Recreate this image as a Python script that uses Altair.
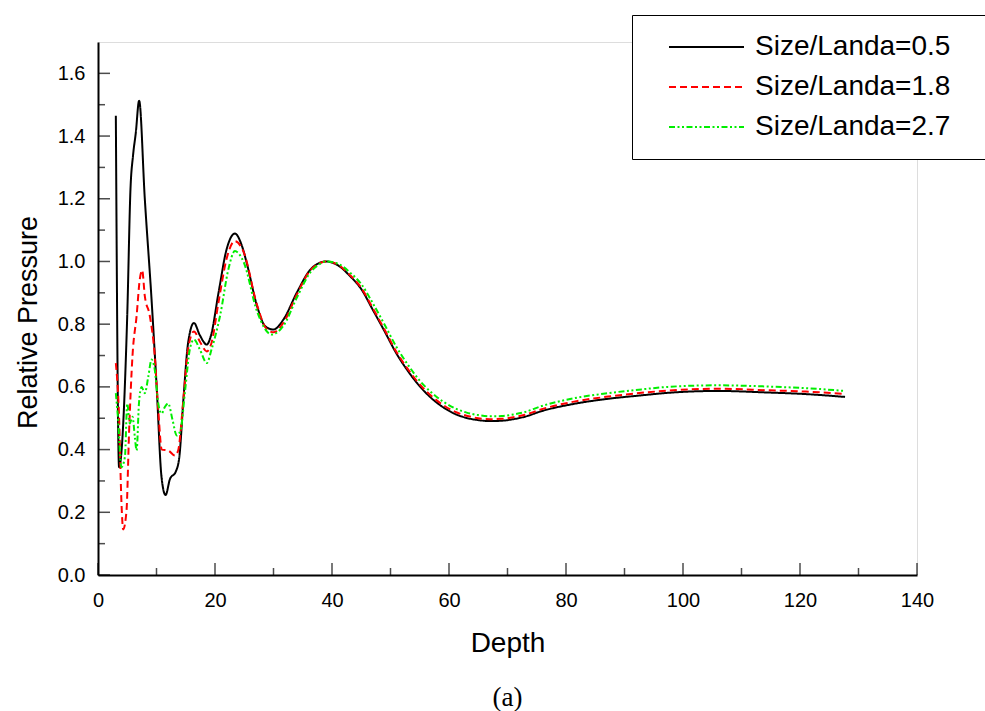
import altair as alt
import pandas as pd

names = ["Size/Landa=0.5", "Size/Landa=1.8", "Size/Landa=2.7"]
colors = ["#000000", "#ff0000", "#00ee00"]
dashes = [[1, 0], [7, 4], [6, 2.5, 2, 2.5, 2, 2.5]]

x_a = [3.05, 3.6, 5.0, 5.55, 6.0, 6.46, 7.03, 8.0, 9.15, 10.0, 10.87, 11.55, 12.3, 13.3, 13.9,
       14.6, 15.4, 16.4, 17.4, 18.6, 19.3, 20.6, 22.0, 23.4, 24.6, 25.4, 27.2, 28.6, 30.0, 31.7,
       34.0, 36.3, 37.5, 39.0, 41.0, 43.0, 45.0, 47.0, 49.0, 51.0, 53.0, 55.0, 57.0, 59.0, 61.0,
       63.0, 65.0, 67.0, 69.0, 71.0, 73.0, 75.7, 81.4, 87.2, 92.9, 97.4, 106.0, 114.6, 121.0, 127.7]
y_a = [1.465, 0.344, 0.83, 1.23, 1.34, 1.41, 1.513, 1.20, 0.88, 0.61, 0.31, 0.255, 0.306, 0.33, 0.376,
       0.56, 0.74, 0.804, 0.765, 0.735, 0.763, 0.90, 1.04, 1.089, 1.05, 0.997, 0.857, 0.793, 0.783, 0.815,
       0.901, 0.974, 0.992, 1.0, 0.988, 0.955, 0.912, 0.845, 0.777, 0.707, 0.650, 0.602, 0.564, 0.535,
       0.514, 0.501, 0.494, 0.491, 0.492, 0.497, 0.505, 0.522, 0.546, 0.562, 0.573, 0.581, 0.587, 0.582,
       0.577, 0.568]

x_b = [3.05, 3.6, 4.0, 4.3, 4.87, 5.3, 5.9, 6.6, 7.15, 7.55, 8.0, 8.86, 9.7, 10.3, 10.9, 12.0, 13.15,
       13.7, 14.6, 15.4, 16.4, 17.4, 18.6, 19.4, 20.6, 22.0, 23.4, 24.9, 27.2, 28.8, 30.0, 31.7, 34.0,
       36.3, 37.5, 39.0, 41.0, 43.0, 45.0, 47.0, 49.0, 51.0, 53.0, 55.0, 57.0, 59.0, 61.0, 63.0, 65.0,
       67.0, 69.0, 71.0, 73.0, 75.7, 81.4, 87.2, 92.9, 97.4, 106.0, 114.6, 121.0, 127.7]
y_b = [0.676, 0.505, 0.236, 0.145, 0.204, 0.45, 0.70, 0.827, 0.944, 0.972, 0.89, 0.826, 0.70, 0.526, 0.40,
       0.397, 0.381, 0.397, 0.56, 0.72, 0.777, 0.745, 0.713, 0.74, 0.87, 1.01, 1.065, 1.03, 0.86, 0.785,
       0.774, 0.805, 0.895, 0.972, 0.991, 1.0, 0.99, 0.958, 0.916, 0.850, 0.782, 0.712, 0.656, 0.608,
       0.571, 0.542, 0.521, 0.508, 0.500, 0.497, 0.498, 0.503, 0.511, 0.528, 0.553, 0.569, 0.581, 0.588,
       0.594, 0.589, 0.585, 0.577]

x_c = [3.05, 3.4, 4.0, 4.6, 5.0, 5.43, 5.9, 6.3, 6.6, 7.0, 7.45, 8.0, 8.6, 9.15, 9.7, 10.3, 10.87,
       11.4, 12.0, 12.75, 13.45, 14.1, 14.9, 15.7, 16.4, 17.4, 18.6, 19.4, 20.9, 22.3, 23.4, 24.9,
       27.2, 29.7, 31.7, 34.0, 36.3, 37.6, 39.0, 41.0, 43.0, 45.0, 47.0, 49.0, 51.0, 53.0, 55.0, 57.0,
       59.0, 61.0, 63.0, 65.0, 67.0, 69.0, 71.0, 73.0, 75.7, 81.4, 87.2, 92.9, 97.4, 106.0, 114.6,
       121.0, 127.7]
y_c = [0.58, 0.505, 0.344, 0.376, 0.547, 0.483, 0.505, 0.44, 0.397, 0.547, 0.60, 0.58, 0.633, 0.687,
       0.655, 0.547, 0.515, 0.535, 0.547, 0.494, 0.445, 0.461, 0.59, 0.72, 0.751, 0.72, 0.676, 0.719,
       0.83, 0.976, 1.033, 0.998, 0.84, 0.767, 0.795, 0.885, 0.965, 0.988, 1.0, 0.993, 0.966, 0.928,
       0.866, 0.798, 0.728, 0.670, 0.620, 0.582, 0.553, 0.532, 0.518, 0.510, 0.506, 0.507, 0.512, 0.520,
       0.538, 0.564, 0.580, 0.592, 0.600, 0.605, 0.601, 0.596, 0.587]

x_major = [0, 20, 40, 60, 80, 100, 120, 140]
x_minor = [10, 30, 50, 70, 90, 110, 130]
y_major = [0.0, 0.2, 0.4, 0.6, 0.8, 1.0, 1.2, 1.4, 1.6]
y_minor = [0.1, 0.3, 0.5, 0.7, 0.9, 1.1, 1.3, 1.5]

rows = []
for name, xs_, ys_ in zip(names, [x_a, x_b, x_c], [y_a, y_b, y_c]):
    for i, (xv, yv) in enumerate(zip(xs_, ys_)):
        rows.append({"series": name, "depth": xv, "p": yv, "i": i})
df = pd.DataFrame(rows)

W, H = 819, 533
FONT = "Liberation Sans"

xscale = alt.Scale(domain=[0, 140], nice=False, zero=False)
yscale = alt.Scale(domain=[0, 1.7], nice=False)

xaxis = alt.Axis(values=x_major, ticks=False, grid=False, labelFontSize=20, labelFont=FONT,
                 labelColor="black", labelPadding=15, title="Depth", titleFont=FONT,
                 titleFontSize=28, titleFontWeight="normal", titleColor="black",
                 titleBaseline="alphabetic", titleY=76, domainColor="black", domainWidth=2,
                 labelFlush=False)
yaxis = alt.Axis(values=y_major, format=".1f", ticks=False, grid=False, labelFontSize=20,
                 labelFont=FONT, labelColor="black", labelPadding=13, title="Relative Pressure",
                 titleFont=FONT, titleFontSize=27, titleFontWeight="normal", titleColor="black",
                 titleBaseline="alphabetic", titleAngle=-90, titleX=-62, titleY=280,
                 domainColor="black", domainWidth=2, labelFlush=False)

legend = alt.Legend(title=None, orient="none", legendX=534, legendY=-27, symbolType="stroke",
                    symbolSize=5625, symbolStrokeWidth=2, labelFontSize=28, labelFont=FONT,
                    labelColor="black", labelOffset=10, labelLimit=0, rowPadding=12, padding=18,
                    clipHeight=28, strokeColor="black", fillColor="white", symbolOffset=18,
                    labelExpr="datum.label + '\u2800'")

lines = alt.Chart(df).mark_line(interpolate="monotone", strokeWidth=2, clip=True).encode(
    x=alt.X("depth:Q", scale=xscale, axis=xaxis),
    y=alt.Y("p:Q", scale=yscale, axis=yaxis),
    color=alt.Color("series:N", scale=alt.Scale(domain=names, range=colors), legend=legend),
    strokeDash=alt.StrokeDash("series:N", scale=alt.Scale(domain=names, range=dashes), legend=legend),
    order="i:Q",
)

def xticks(vals, length):
    return alt.Chart(pd.DataFrame({"depth": vals})).mark_tick(
        orient="vertical", size=length, thickness=1.5, color="black").encode(
        x=alt.X("depth:Q", scale=xscale, axis=xaxis), y=alt.value(H - length / 2))

def yticks(vals, length):
    return alt.Chart(pd.DataFrame({"p": vals})).mark_tick(
        orient="horizontal", size=length, thickness=1.5, color="black").encode(
        y=alt.Y("p:Q", scale=yscale, axis=yaxis), x=alt.value(length / 2))

chart = alt.layer(
    lines, xticks(x_major, 12), xticks(x_minor, 7), yticks(y_major, 12), yticks(y_minor, 7)
).properties(
    width=W, height=H,
    autosize=alt.AutoSizeParams(type="none"),
    padding={"left": 98, "top": 42, "right": 68, "bottom": 136},
    title=alt.TitleParams("(a)", orient="bottom", font="Liberation Serif", fontSize=27,
                          fontWeight="normal", color="black", offset=28, anchor="middle"),
).configure_view(stroke=None).configure(background="white")

chart.save("out.html", embed_options={"renderer": "svg", "actions": False})
